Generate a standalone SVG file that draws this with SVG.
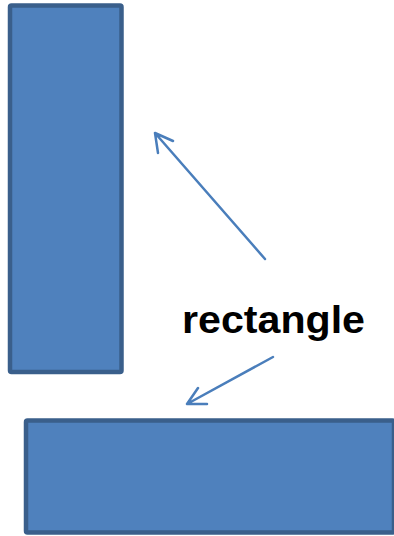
<svg xmlns="http://www.w3.org/2000/svg" width="394" height="536" viewBox="0 0 394 536">
<style>
.box{fill:#4f81bd;stroke:#3a5f8b;stroke-width:4.5}
.arr{fill:none;stroke:#4a7ebb;stroke-width:2.5;stroke-linecap:round;stroke-linejoin:round}
.lbl{font-family:"Liberation Sans",Arial,sans-serif;font-weight:bold;font-size:38px;fill:#000}
</style>
<g id="rect-vertical"><rect class="box" x="10" y="5.5" width="111.5" height="366.5" rx="1.5"/></g>
<g id="rect-horizontal"><rect class="box" x="26" y="420.5" width="368" height="112" rx="1.5"/></g>
<g id="label"><text class="lbl" x="182" y="333" textLength="183" lengthAdjust="spacingAndGlyphs">rectangle</text></g>
<g id="connectors">
<path class="arr" d="M265,259 L155,133 M173,141 L155,133 L158,153"/>
<path class="arr" d="M273,357 L187,404 M198,388 L187,404 L207,404"/>
</g>
</svg>
